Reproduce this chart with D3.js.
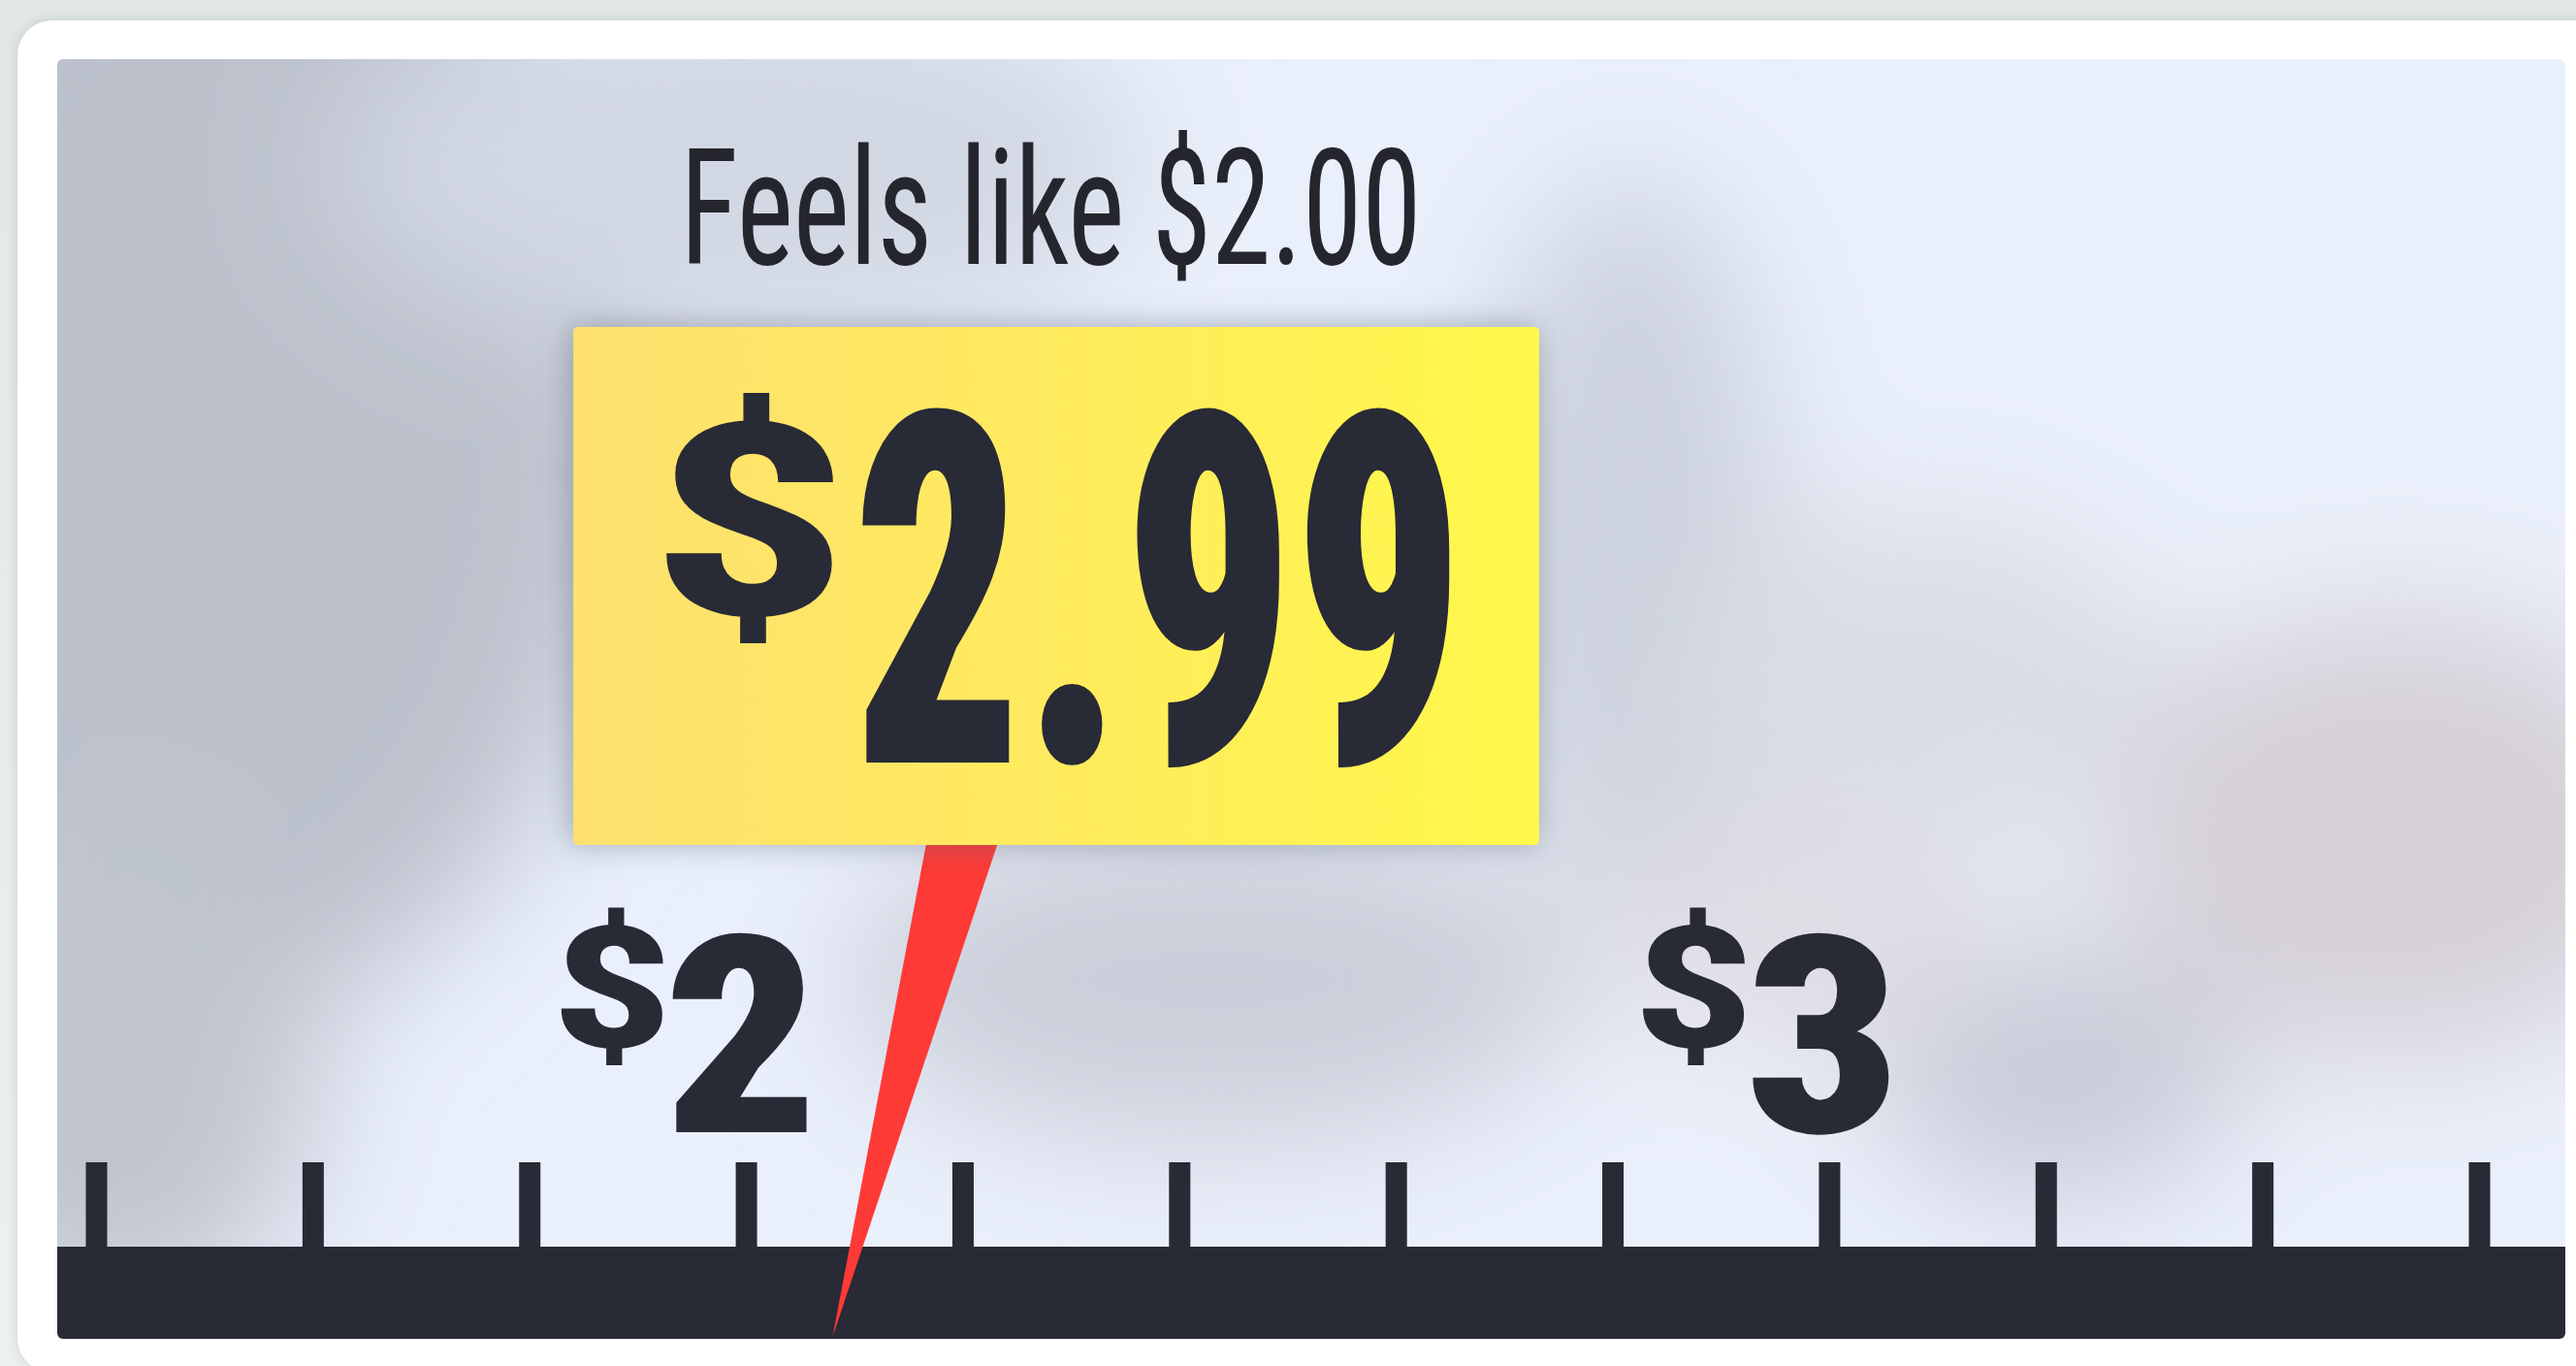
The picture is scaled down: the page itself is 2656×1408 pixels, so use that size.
<!DOCTYPE html>
<html>
<head>
<meta charset="utf-8">
<script src="https://cdn.jsdelivr.net/npm/d3@7"></script>
<style>
  html, body { margin: 0; padding: 0; background: #e8ecec; overflow: hidden; }
  svg { display: block; }
</style>
</head>
<body>
<svg id="chart" width="2656" height="1408"></svg>
<script>
// ---------------- data ----------------
const tickValues = [1.4, 1.6, 1.8, 2.0, 2.2, 2.4, 2.6, 2.8, 3.0, 3.2, 3.4, 3.6];
const labelValues = [2, 3];
const labelTexts = ["2", "3"];
const priceValue = 2.99;
const feelsLikeValue = 2.00;
const pointerTipValue = 2.08;
const pointerBaseValue = 2.20;
const currencySymbol = "$";
const feelsLikePrefix = "Feels like ";

// ---------------- layout / style ----------------
const W = 2656, H = 1408;
const panel = { x: 59, y: 61, w: 2586, h: 1319, r: 6 };
const barTop = 1285, barBottom = 1380;
const tickLen = 87, tickWidth = 22;
const tag = { x: 591, y: 337, w: 996, h: 534, r: 5 };
const ink = "#282a36";

// ---------------- font helpers ----------------
const ctx = document.createElement("canvas").getContext("2d");
function hasFont(name) {
  const s = "abcdefghijklmnopqrstuvwxyz0123456789$.";
  ctx.font = "100px monospace"; const a = ctx.measureText(s).width;
  ctx.font = "100px serif"; const b = ctx.measureText(s).width;
  ctx.font = `100px "${name}", monospace`; const c = ctx.measureText(s).width;
  ctx.font = `100px "${name}", serif`; const d = ctx.measureText(s).width;
  return Math.abs(a - c) > 0.5 || Math.abs(b - d) > 0.5;
}
const condCandidates = ["Roboto Condensed", "Liberation Sans Narrow", "DejaVu Sans Condensed", "Arial Narrow"];
const COND = condCandidates.find(hasFont) || "Roboto";
const BASE = "Roboto";

function measure(str, weight, family) {
  ctx.font = `${weight} 100px "${family}"`;
  const m = ctx.measureText(str);
  return { l: m.actualBoundingBoxLeft, r: m.actualBoundingBoxRight,
           a: m.actualBoundingBoxAscent, d: m.actualBoundingBoxDescent };
}
function addText(parent, str, weight, family, fs, sx, ox, oy, fill) {
  return parent.append("text")
    .attr("transform", `translate(${ox},${oy}) scale(${sx},1)`)
    .attr("font-family", `"${family}"`).attr("font-weight", weight)
    .attr("font-size", fs).attr("fill", fill).text(str);
}
function fitBox(parent, str, weight, family, box, fill) {
  const m = measure(str, weight, family);
  const fs = 100 * (box.y1 - box.y0) / (m.a + m.d);
  const k = fs / 100;
  const sx = (box.x1 - box.x0) / ((m.l + m.r) * k);
  addText(parent, str, weight, family, fs, sx, box.x0 + m.l * k * sx, box.y0 + m.a * k, fill);
}

const svg = d3.select("#chart");
const defs = svg.append("defs");

defs.append("filter").attr("id", "blur").attr("x", "-50%").attr("y", "-50%")
  .attr("width", "200%").attr("height", "200%")
  .append("feGaussianBlur").attr("stdDeviation", 70);

const cardShadow = defs.append("filter").attr("id", "cardShadow")
  .attr("x", "-5%").attr("y", "-5%").attr("width", "110%").attr("height", "110%");
cardShadow.append("feDropShadow").attr("dx", 0).attr("dy", 0).attr("stdDeviation", 7)
  .attr("flood-color", "#8a9496").attr("flood-opacity", 0.35);

const tagShadow = defs.append("filter").attr("id", "tagShadow")
  .attr("x", "-20%").attr("y", "-20%").attr("width", "140%").attr("height", "140%");
tagShadow.append("feDropShadow").attr("dx", -3).attr("dy", -1).attr("stdDeviation", 16)
  .attr("flood-color", "#5d6576").attr("flood-opacity", 0.5);

const grad = defs.append("linearGradient").attr("id", "tagGrad")
  .attr("x1", "0%").attr("x2", "100%").attr("y1", "0%").attr("y2", "0%");
grad.append("stop").attr("offset", "0%").attr("stop-color", "#fde06f");
grad.append("stop").attr("offset", "55%").attr("stop-color", "#ffec5c");
grad.append("stop").attr("offset", "100%").attr("stop-color", "#fff84a");

defs.append("clipPath").attr("id", "panelClip")
  .append("rect").attr("x", panel.x).attr("y", panel.y)
  .attr("width", panel.w).attr("height", panel.h).attr("rx", panel.r);

const bgGrad = defs.append("linearGradient").attr("id", "pageGrad")
  .attr("x1", "0").attr("x2", "0").attr("y1", "0").attr("y2", "1");
bgGrad.append("stop").attr("offset", "0%").attr("stop-color", "#e2e7e7");
bgGrad.append("stop").attr("offset", "100%").attr("stop-color", "#edf1f1");
svg.append("rect").attr("width", W).attr("height", H).attr("fill", "url(#pageGrad)");

// card
svg.append("rect").attr("x", 18).attr("y", 21).attr("width", W + 60).attr("height", 1394)
  .attr("rx", 36).attr("fill", "#ffffff").attr("filter", "url(#cardShadow)");

// panel with blurred backdrop
const pg = svg.append("g").attr("clip-path", "url(#panelClip)");
pg.append("rect").attr("x", panel.x).attr("y", panel.y).attr("width", panel.w)
  .attr("height", panel.h).attr("fill", "#eaf0fb");

const blobs = [
  { cx: 230, cy: 430, rx: 420, ry: 620, c: "#bcc1cc" },
  { cx: 110, cy: 1100, rx: 220, ry: 260, c: "#c0c5cf" },
  { cx: 760, cy: 170, rx: 420, ry: 190, c: "#d2d8e3" },
  { cx: 1250, cy: 1010, rx: 380, ry: 170, c: "#cbcfda" },
  { cx: 1680, cy: 560, rx: 150, ry: 380, c: "#ccd2dd" },
  { cx: 2120, cy: 1110, rx: 190, ry: 130, c: "#c8ccd8" },
  { cx: 2470, cy: 860, rx: 300, ry: 230, c: "#d6d0d8" },
  { cx: 1980, cy: 700, rx: 250, ry: 170, c: "#d9dde7" },
  { cx: 1850, cy: 960, rx: 200, ry: 120, c: "#e0dce4" }
];
pg.append("g").attr("filter", "url(#blur)")
  .selectAll("ellipse").data(blobs).join("ellipse")
  .attr("cx", d => d.cx).attr("cy", d => d.cy)
  .attr("rx", d => d.rx).attr("ry", d => d.ry).attr("fill", d => d.c);

// ---------------- scale ----------------
const x = d3.scaleLinear().domain([1.4, 3.6]).range([99, 2556]);

// ruler bar
pg.append("rect").attr("x", panel.x).attr("y", barTop).attr("width", panel.w)
  .attr("height", barBottom - barTop + 10).attr("fill", ink);

// ticks via d3 axis
const axisG = svg.append("g").attr("transform", `translate(0,${barTop + 1})`)
  .call(d3.axisTop(x).tickValues(tickValues).tickSize(tickLen + 1).tickFormat(() => ""));
axisG.select(".domain").remove();
axisG.selectAll(".tick line").attr("stroke", ink).attr("stroke-width", tickWidth);
axisG.selectAll(".tick text").remove();

// ---------------- tick labels ($2, $3) ----------------
const labelG = svg.append("g");
const digitW = 900, labelBaseline = 1167;
const m2 = measure(labelTexts[0], digitW, COND);
const lfs = 100 * 205 / (m2.a + m2.d);
const lk = lfs / 100;
const lsx = 141 / ((m2.l + m2.r) * lk);
labelValues.forEach((v, i) => {
  const str = labelTexts[i];
  const m = measure(str, digitW, COND);
  const cx = x(v) - 8;
  const ox = cx - (m.r - m.l) / 2 * lk * lsx;
  addText(labelG, str, digitW, COND, lfs, lsx, ox, labelBaseline, ink);
  const inkLeft = ox - m.l * lk * lsx;
  fitBox(labelG, currencySymbol, 900, BASE,
    { x0: inkLeft - 7 - 105, x1: inkLeft - 7, y0: labelBaseline - 233, y1: labelBaseline - 69 }, ink);
});

// ---------------- pointer needle ----------------
const baseHalf = 37;
svg.append("path")
  .attr("d", d3.line()([
    [x(pointerBaseValue) - baseHalf, tag.y + tag.h - 4],
    [x(pointerBaseValue) + baseHalf, tag.y + tag.h - 4],
    [x(pointerTipValue), barBottom - 2]
  ]) + "Z")
  .attr("fill", "#fe3a36");

// ---------------- price tag ----------------
svg.append("rect").attr("x", tag.x).attr("y", tag.y).attr("width", tag.w).attr("height", tag.h)
  .attr("rx", tag.r).attr("fill", "url(#tagGrad)").attr("filter", "url(#tagShadow)");

const fmt = d3.format(".2f");
const tagG = svg.append("g");
fitBox(tagG, currencySymbol, 900, BASE, { x0: 687, x1: 859, y0: 403, y1: 664 }, ink);
fitBox(tagG, fmt(priceValue), 900, COND, { x0: 886, x1: 1495, y0: 421, y1: 791 }, ink);

// ---------------- "Feels like" ----------------
(function () {
  const str = feelsLikePrefix + currencySymbol + fmt(feelsLikeValue);
  const w = 400;
  const mF = measure("F", w, COND);
  const fs = 100 * 120 / mF.a;
  const k = fs / 100;
  const m = measure(str, w, COND);
  const sx = (1459 - 710) / ((m.l + m.r) * k);
  addText(svg, str, w, COND, fs, sx, 710 + m.l * k * sx, 272, "#25262d");
})();
</script>
</body>
</html>
